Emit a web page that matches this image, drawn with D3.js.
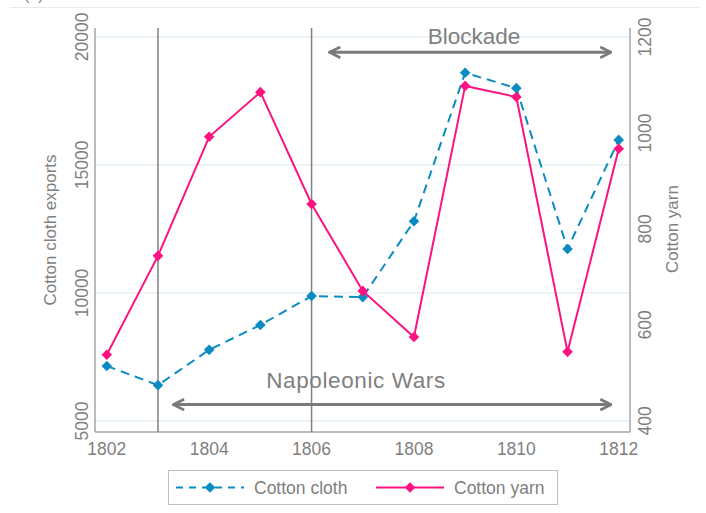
<!DOCTYPE html>
<html>
<head>
<meta charset="utf-8">
<script src="https://cdn.jsdelivr.net/npm/d3@7/dist/d3.min.js"></script>
<style>
  body { margin: 0; background: #fff; }
  svg { font-family: "Liberation Sans", Arial, sans-serif; }
</style>
</head>
<body>
<div id="chart"></div>
<script>
// data
const years = [1802, 1803, 1804, 1805, 1806, 1807, 1808, 1809, 1810, 1811, 1812];
const clothExports = [7150, 6400, 7780, 8750, 9880, 9840, 12800, 18600, 18000, 11720, 15980];
const yarnExports = [538, 744, 992, 1085, 852, 671, 575, 1098, 1075, 544, 967];
const leftTicks = [5000, 10000, 15000, 20000];
const rightTicks = [400, 600, 800, 1000, 1200];
const xTicks = [1802, 1804, 1806, 1808, 1810, 1812];
const markerYears = [1803, 1806];
const periods = [
  { label: "Blockade", from: 1806.35, to: 1811.85, level: 19400 },
  { label: "Napoleonic Wars", from: 1803.3, to: 1811.85, level: 5640 }
];

const W = 706, H = 513;
const margin = { top: 28, right: 76, bottom: 81, left: 95 };
const grey = "#7f7f7f", axisGrey = "#a6a6a6";
const blue = "#0b8bc2", pink = "#fc1380";

const svg = d3.select("#chart").append("svg")
  .attr("width", W).attr("height", H);

// faint header rule and cut-off caption at top
svg.append("line").attr("x1", 10).attr("x2", 700).attr("y1", 7.5).attr("y2", 7.5)
  .attr("stroke", "#e3eef0");
svg.append("text").attr("x", 24).attr("y", 0).attr("font-size", 16)
  .attr("fill", grey).text("(b)");

const x = d3.scaleLinear().domain([1801.77, 1812.22]).range([margin.left, W - margin.right]);
const yL = d3.scaleLinear().domain([4570, 20350]).range([H - margin.bottom, margin.top]);
const yR = d3.scaleLinear().domain([400, 1200]).range([yL(5000), yL(20000)]);

// gridlines
svg.append("g").selectAll("line").data(leftTicks).join("line")
  .attr("x1", margin.left).attr("x2", W - margin.right)
  .attr("y1", d => yL(d)).attr("y2", d => yL(d))
  .attr("stroke", "#e6eff0").attr("stroke-width", 1.5);

// axes frame lines
const x0 = margin.left, x1 = W - margin.right, yb = H - margin.bottom, yt = margin.top;
svg.append("line").attr("x1", x0).attr("x2", x0).attr("y1", yt).attr("y2", yb)
  .attr("stroke", axisGrey).attr("stroke-width", 1.5);
svg.append("line").attr("x1", x1).attr("x2", x1).attr("y1", yt).attr("y2", yb)
  .attr("stroke", axisGrey).attr("stroke-width", 1.5);
svg.append("line").attr("x1", x0).attr("x2", x1).attr("y1", yb).attr("y2", yb)
  .attr("stroke", axisGrey).attr("stroke-width", 1.5);

// tick labels
svg.append("g").selectAll("text").data(leftTicks).join("text")
  .attr("transform", d => `translate(88,${yL(d)}) rotate(-90)`)
  .attr("text-anchor", "middle").attr("font-size", 17.5).attr("fill", grey)
  .text(d => d);
svg.append("g").selectAll("text").data(rightTicks).join("text")
  .attr("transform", d => `translate(651,${yR(d)}) rotate(-90)`)
  .attr("text-anchor", "middle").attr("font-size", 17.5).attr("fill", grey)
  .text(d => d);
svg.append("g").selectAll("text").data(xTicks).join("text")
  .attr("x", d => x(d)).attr("y", 455)
  .attr("text-anchor", "middle").attr("font-size", 17.5).attr("fill", grey)
  .text(d => d);

// axis titles
svg.append("text").attr("transform", "translate(56,230) rotate(-90)")
  .attr("text-anchor", "middle").attr("font-size", 17).attr("fill", grey)
  .text("Cotton cloth exports");
svg.append("text").attr("transform", "translate(678,229) rotate(-90)")
  .attr("text-anchor", "middle").attr("font-size", 17).attr("fill", grey)
  .text("Cotton yarn");

// vertical period markers
svg.append("g").selectAll("line").data(markerYears).join("line")
  .attr("x1", d => x(d)).attr("x2", d => x(d))
  .attr("y1", yt).attr("y2", yb)
  .attr("stroke", "#808080").attr("stroke-width", 1.5);

// arrows
const defs = svg.append("defs");
defs.append("marker").attr("id", "arr")
  .attr("viewBox", "0 0 10 10").attr("refX", 9).attr("refY", 5)
  .attr("markerWidth", 4.5).attr("markerHeight", 4.5).attr("orient", "auto-start-reverse")
  .attr("markerUnits", "strokeWidth")
  .append("path").attr("d", "M1,1 L9,5 L1,9").attr("fill", "none")
  .attr("stroke", "#7a7a7a").attr("stroke-width", 2);

const per = svg.append("g").selectAll("g").data(periods).join("g");
per.append("line")
  .attr("x1", d => x(d.from)).attr("x2", d => x(d.to))
  .attr("y1", d => yL(d.level)).attr("y2", d => yL(d.level))
  .attr("stroke", "#7a7a7a").attr("stroke-width", 3)
  .attr("marker-start", "url(#arr)").attr("marker-end", "url(#arr)");

svg.append("text").attr("x", 474).attr("y", 44).attr("text-anchor", "middle")
  .attr("font-size", 22.5).attr("fill", grey).text(periods[0].label);
svg.append("text").attr("x", 356).attr("y", 388).attr("text-anchor", "middle")
  .attr("font-size", 22.5).attr("fill", grey).attr("letter-spacing", 0.6)
  .text(periods[1].label);

// series
const diamond = d3.symbol().type(d3.symbolDiamond2).size(72);
const cloth = years.map((yr, i) => ({ yr, v: clothExports[i] }));
const yarn = years.map((yr, i) => ({ yr, v: yarnExports[i] }));

svg.append("path").datum(cloth)
  .attr("d", d3.line().x(d => x(d.yr)).y(d => yL(d.v)))
  .attr("fill", "none").attr("stroke", blue).attr("stroke-width", 2)
  .attr("stroke-dasharray", "9,6");
svg.append("g").selectAll("path").data(cloth).join("path")
  .attr("transform", d => `translate(${x(d.yr)},${yL(d.v)})`)
  .attr("d", diamond).attr("fill", blue);

svg.append("path").datum(yarn)
  .attr("d", d3.line().x(d => x(d.yr)).y(d => yR(d.v)))
  .attr("fill", "none").attr("stroke", pink).attr("stroke-width", 2);
svg.append("g").selectAll("path").data(yarn).join("path")
  .attr("transform", d => `translate(${x(d.yr)},${yR(d.v)})`)
  .attr("d", diamond).attr("fill", pink);

// legend
const lg = svg.append("g");
lg.append("rect").attr("x", 168.5).attr("y", 470.5).attr("width", 389).attr("height", 34)
  .attr("fill", "#fff").attr("stroke", "#bfbfbf");
lg.append("line").attr("x1", 176).attr("x2", 244).attr("y1", 487.5).attr("y2", 487.5)
  .attr("stroke", blue).attr("stroke-width", 2).attr("stroke-dasharray", "7,6");
lg.append("path").attr("transform", "translate(210,487.5)").attr("d", diamond).attr("fill", blue);
lg.append("text").attr("x", 254).attr("y", 494).attr("font-size", 17.5).attr("fill", grey)
  .text("Cotton cloth");
lg.append("line").attr("x1", 376).attr("x2", 444).attr("y1", 487.5).attr("y2", 487.5)
  .attr("stroke", pink).attr("stroke-width", 2);
lg.append("path").attr("transform", "translate(410,487.5)").attr("d", diamond).attr("fill", pink);
lg.append("text").attr("x", 454).attr("y", 494).attr("font-size", 17.5).attr("fill", grey)
  .text("Cotton yarn");
</script>
</body>
</html>
